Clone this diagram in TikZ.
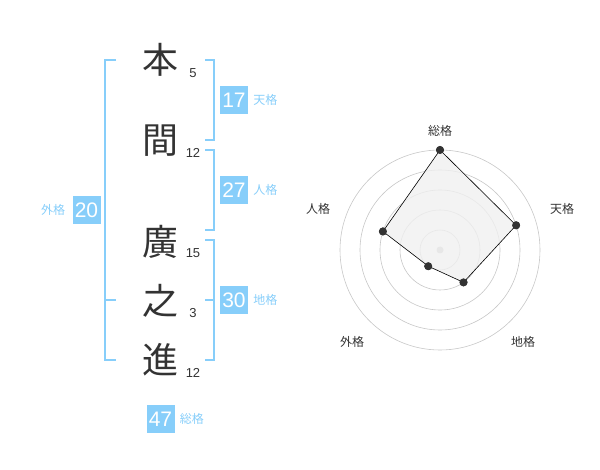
\documentclass[tikz,border=0pt]{standalone}
\usepackage{fontspec}
\setmainfont{Liberation Sans}
\newfontfamily\jpfont{Noto Sans CJK JP}
\usetikzlibrary{positioning}
\definecolor{kakuiro}{HTML}{87CEFA}
\definecolor{moji}{HTML}{333333}
\tikzstyle{kanji}=[text=moji,font=\jpfont\fontsize{36}{36}\selectfont,inner sep=0pt]
\tikzstyle{kakusu}=[text=moji,font=\fontsize{13}{13}\selectfont,inner sep=0pt]
\tikzstyle{kakubox}=[fill=kakuiro,text=white,minimum size=28pt,inner sep=0pt,font=\fontsize{21}{21}\selectfont]
\tikzstyle{kakumei}=[text=kakuiro,font=\jpfont\fontsize{12}{12}\selectfont,inner sep=0pt]
\tikzstyle{waku}=[draw=kakuiro,line width=1.5pt]
\tikzstyle{ring}=[draw=black!22,line width=.6pt]
\tikzstyle{ten}=[circle,fill=moji,minimum size=8pt,inner sep=0pt]
\tikzstyle{jiku}=[text=moji,font=\jpfont\fontsize{12}{12}\selectfont,inner sep=0pt]

\begin{document}
\begin{tikzpicture}[x=1pt,y=-1pt]
\useasboundingbox (0,0) rectangle (600,470);
% name
\node[kanji] (k1) at (160,60)  {本};
\node[kanji] (k2) at (160,141) {間};
\node[kanji] (k3) at (160,242) {廣};
\node[kanji] (k4) at (160,301) {之};
\node[kanji] (k5) at (160,360) {進};
\node[kakusu] (s1) at (193,73)  {5};
\node[kakusu] (s2) at (193,153) {12};
\node[kakusu] (s3) at (193,253) {15};
\node[kakusu] (s4) at (193,313) {3};
\node[kakusu] (s5) at (193,373) {12};
% brackets
\draw[waku] (116,60) -- (105,60) -- (105,360) -- (116,360);
\draw[waku] (105,300) -- (116,300);
\draw[waku] (205,60) -- (214,60) -- (214,140) -- (205,140);
\draw[waku] (205,150) -- (214,150) -- (214,230) -- (205,230);
\draw[waku] (205,240) -- (214,240) -- (214,360) -- (205,360);
\draw[waku] (205,300) -- (214,300);
% kaku
\node[kakubox] (ten) at (234,100) {17};
\node[kakumei,right=5pt of ten] (tenm) {天格};
\node[kakubox] (jin) at (234,190) {27};
\node[kakumei,right=5pt of jin] (jinm) {人格};
\node[kakubox] (chi) at (234,300) {30};
\node[kakumei,right=5pt of chi] (chim) {地格};
\node[kakubox] (gai) at (86.5,210) {20};
\node[kakumei,left=7pt of gai] (gaim) {外格};
\node[kakubox] (sou) at (160.5,419) {47};
\node[kakumei,right=5pt of sou] (soum) {総格};
% radar
\begin{scope}[shift={(440,250)}]
\draw[ring] (0,0) circle (20pt);
\draw[ring] (0,0) circle (40pt);
\draw[ring] (0,0) circle (60pt);
\draw[ring] (0,0) circle (80pt);
\draw[ring] (0,0) circle (100pt);
\node[circle,fill=black!22,minimum size=7pt,inner sep=0pt] (o) at (0,0) {};
\node[ten] (p1) at (90:100pt) {};
\node[ten] (p2) at (18:80pt) {};
\node[ten] (p3) at (-54:40pt) {};
\node[ten] (p4) at (-126:20pt) {};
\node[ten] (p5) at (162:60pt) {};
\end{scope}
\fill[black!6,opacity=.8] (p1.center) -- (p2.center) -- (p3.center) -- (p4.center) -- (p5.center) -- cycle;
\draw[line width=.6pt] (p1.center) -- (p2.center) -- (p3.center) -- (p4.center) -- (p5.center) -- cycle;
\node[ten] at (p1) {};
\node[ten] at (p2) {};
\node[ten] at (p3) {};
\node[ten] at (p4) {};
\node[ten] at (p5) {};
\node[jiku] (a1) at (440,131) {総格};
\node[jiku] (a2) at (562,209) {天格};
\node[jiku] (a3) at (523,342) {地格};
\node[jiku] (a4) at (352,342) {外格};
\node[jiku] (a5) at (318,209) {人格};
\end{tikzpicture}
\end{document}
